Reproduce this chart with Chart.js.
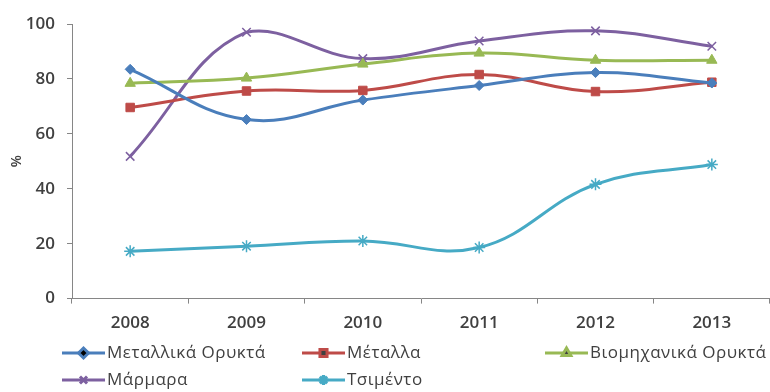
<!DOCTYPE html>
<html>
<head>
<meta charset="utf-8">
<script src="https://cdn.jsdelivr.net/npm/chart.js@4/dist/chart.umd.min.js"></script>
<style>
  body { margin: 0; background: #fff; }
  #wrap { width: 770px; height: 392px; overflow: hidden; }
</style>
</head>
<body>
<div id="wrap"><canvas id="myChart" width="770" height="392"></canvas></div>
<script>
// years on the x axis
var years = ['2008', '2009', '2010', '2011', '2012', '2013'];

// series values (%)
var metallikaOrykta = [83.5, 65.2, 72.3, 77.6, 82.3, 78.5];
var metalla = [69.6, 75.6, 75.8, 81.6, 75.4, 78.8];
var viomixanikaOrykta = [78.4, 80.3, 85.4, 89.4, 86.8, 86.8];
var marmara = [51.8, 97.0, 87.4, 93.8, 97.5, 91.9];
var tsimento = [17.2, 19.1, 21.0, 18.6, 41.6, 48.8];

var yTicks = [0, 20, 40, 60, 80, 100];

var labelFont = { family: 'Open Sans', size: 17, weight: '600' };
var textColor = '#404040';

function makeSet(label, data, color, style, radius) {
    return {
        label: label,
        data: data,
        borderColor: color,
        backgroundColor: color,
        borderWidth: 3,
        tension: 0.4,
        pointStyle: style,
        pointRadius: radius,
        pointBorderWidth: style == 'crossRot' || style == 'star' ? 1.5 : 1,
        pointBorderColor: color,
        pointBackgroundColor: color,
        fill: false
    };
}

// legend in three columns, drawn under the axis
var gridLegend = {
    id: 'gridLegend',
    afterDraw: function(chart) {
        var ctx = chart.ctx;
        var colX = [62, 302, 545];
        var rowY = [353, 380];
        ctx.save();
        chart.data.datasets.forEach(function(ds, i) {
            var x = colX[i % 3];
            var y = rowY[Math.floor(i / 3)];
            ctx.strokeStyle = ds.borderColor;
            ctx.lineWidth = 3;
            ctx.beginPath();
            ctx.moveTo(x, y);
            ctx.lineTo(x + 43, y);
            ctx.stroke();
            Chart.helpers.drawPoint(ctx, {
                pointStyle: ds.pointStyle,
                radius: 5,
                borderWidth: ds.pointBorderWidth,
                rotation: 0
            }, x + 21.5, y);
            ctx.fillStyle = textColor;
            ctx.font = '17px "Open Sans"';
            ctx.letterSpacing = '0.5px';
            ctx.textBaseline = 'middle';
            ctx.fillText(ds.label, x + 45, y);
        });
        ctx.restore();
    }
};

var ctx = document.getElementById('myChart').getContext('2d');
var myChart = new Chart(ctx, {
    type: 'line',
    data: {
        labels: years,
        datasets: [
            makeSet('Μεταλλικά Ορυκτά', metallikaOrykta, '#4A7EBB', 'rectRot', 5),
            makeSet('Μέταλλα', metalla, '#BE4B48', 'rect', 6),
            makeSet('Βιομηχανικά Ορυκτά', viomixanikaOrykta, '#98B954', 'triangle', 6),
            makeSet('Μάρμαρα', marmara, '#7D60A0', 'crossRot', 6),
            makeSet('Τσιμέντο', tsimento, '#46AAC5', 'star', 6)
        ]
    },
    options: {
        responsive: false,
        animation: false,
        // axis runs a little past the right edge
        layout: { autoPadding: false, padding: { top: 24, right: -6, bottom: 50, left: 0 } },
        plugins: {
            legend: { display: false },
            tooltip: { enabled: false }
        },
        scales: {
            x: {
                offset: true,
                afterFit: function(scale) {
                    scale.paddingLeft = 0;
                    scale.paddingRight = 0;
                },
                grid: { offset: true, drawOnChartArea: false, tickLength: 5, color: '#868686' },
                border: { color: '#868686', width: 1 },
                ticks: { font: labelFont, color: textColor, padding: 9 }
            },
            y: {
                min: 0,
                max: 100,
                afterBuildTicks: function(scale) {
                    scale.ticks = yTicks.map(function(v) { return { value: v }; });
                },
                afterFit: function(scale) { scale.width = 72; },
                grid: { drawOnChartArea: false, tickLength: 5, color: '#868686' },
                border: { color: '#868686', width: 1 },
                ticks: { font: labelFont, color: textColor, padding: 12 },
                title: {
                    display: true,
                    text: '%',
                    font: { family: 'Open Sans', size: 14, weight: '600' },
                    color: textColor,
                    padding: { top: 9, bottom: 0 }
                }
            }
        }
    },
    plugins: [gridLegend]
});
</script>
</body>
</html>
